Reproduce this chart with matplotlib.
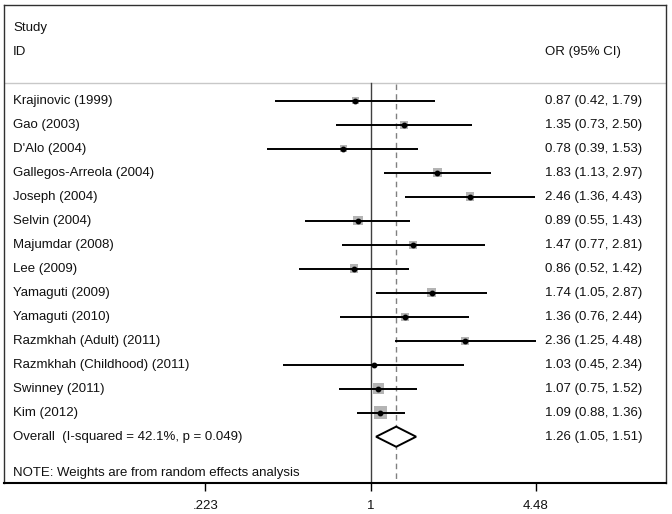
import numpy as np
import matplotlib
matplotlib.use("Agg")
from matplotlib import pyplot as plt
import matplotlib.transforms as mtrans

# datos
estudios = ["Krajinovic (1999)", "Gao (2003)", "D'Alo (2004)", "Gallegos-Arreola (2004)",
            "Joseph (2004)", "Selvin (2004)", "Majumdar (2008)", "Lee (2009)",
            "Yamaguti (2009)", "Yamaguti (2010)", "Razmkhah (Adult) (2011)",
            "Razmkhah (Childhood) (2011)", "Swinney (2011)", "Kim (2012)"]
OR = [0.87, 1.35, 0.78, 1.83, 2.46, 0.89, 1.47, 0.86, 1.74, 1.36, 2.36, 1.03, 1.07, 1.09]
li = [0.42, 0.73, 0.39, 1.13, 1.36, 0.55, 0.77, 0.52, 1.05, 0.76, 1.25, 0.45, 0.75, 0.88]
ls = [1.79, 2.50, 1.53, 2.97, 4.43, 1.43, 2.81, 1.42, 2.87, 2.44, 4.48, 2.34, 1.52, 1.36]
pesos = [4.7, 7.1, 5.4, 9.0, 8.0, 10.0, 7.1, 8.0, 9.0, 7.1, 7.1, 1.0, 13.4, 18.8]
overall = 1.26; o_li = 1.05; o_ls = 1.51
overall_label = "Overall  (I-squared = 42.1%, p = 0.049)"
nota = "NOTE: Weights are from random effects analysis"
ticks = [0.223, 1, 4.48]
tick_labels = [".223", "1", "4.48"]

W, H = 672, 514
fig = plt.figure(figsize=(W/100, H/100), dpi=100)
# caja del grafico en pixeles
x0, x1, y0, y1 = 4, 666, 5, 483
ax = fig.add_axes([x0/W, 1-y1/H, (x1-x0)/W, (y1-y0)/H])

# escala: px = 370.7 + 110.2*ln(x)
cx, k = 370.7, 110.2
ax.set_xscale("log")
ax.set_xlim(np.exp((x0-cx)/k), np.exp((x1-cx)/k))
# filas: px = 100.7 + 24*r
ax.set_ylim((y1-100.7)/24, (y0-100.7)/24)

fs = 9.5
fam = "Liberation Sans"
fx = lambda px: (px - x0)/(x1 - x0)
tr = mtrans.blended_transform_factory(ax.transAxes, ax.transData)

n = len(estudios)
for i in range(n):
    ax.plot([li[i], ls[i]], [i, i], color="black", lw=1.4, solid_capstyle="butt", zorder=3)
    lado = 3.0*np.sqrt(pesos[i])*0.72
    ax.scatter([OR[i]], [i], marker="s", s=lado**2, color="#b4b4b4", edgecolors="none", zorder=2)
    ax.plot([OR[i]], [i], "o", color="black", ms=3.2, zorder=4)
    ax.text(fx(13), i, estudios[i], transform=tr, fontsize=fs, va="center", ha="left",
            family=fam, color="#111111")
    ax.text(fx(545), i, "%.2f (%.2f, %.2f)" % (OR[i], li[i], ls[i]), transform=tr,
            fontsize=fs, va="center", ha="left", family=fam, color="#111111")

# diamante global
r = n
h = 0.42
ax.fill([o_li, overall, o_ls, overall, o_li], [r, r-h, r, r+h, r], facecolor="white",
        edgecolor="black", lw=1.4, zorder=3)
ax.text(fx(13), r, overall_label, transform=tr, fontsize=fs, va="center", ha="left",
        family=fam, color="#111111")
ax.text(fx(545), r, "%.2f (%.2f, %.2f)" % (overall, o_li, o_ls), transform=tr,
        fontsize=fs, va="center", ha="left", family=fam, color="#111111")

# encabezados
ax.text(fx(13), (28-100.7)/24, "Study", transform=tr, fontsize=fs, va="center", family=fam, color="#111111")
ax.text(fx(13), (52-100.7)/24, "ID", transform=tr, fontsize=fs, va="center", family=fam, color="#111111")
ax.text(fx(545), (52-100.7)/24, "OR (95% CI)", transform=tr, fontsize=fs, va="center", family=fam, color="#111111")
ax.text(fx(13), (473-100.7)/24, nota, transform=tr, fontsize=fs, va="center", family=fam, color="#111111")

yh = (82.7-100.7)/24
ax.axhline(yh, color="#c8c8c8", lw=1.0, zorder=1)
ybot = (y1-100.7)/24
ax.plot([1, 1], [yh, ybot], color="#404040", lw=1.0, zorder=1)
ax.plot([overall, overall], [yh + 0.05, ybot], color="#808080", lw=1.0,
        dashes=(4, 3), zorder=1)

for lado_s in ["left", "top", "right"]:
    ax.spines[lado_s].set_color("#303030")
    ax.spines[lado_s].set_linewidth(1.0)
ax.spines["bottom"].set_linewidth(1.5)
ax.set_yticks([])
ax.minorticks_off()
ax.set_xticks(ticks)
ax.set_xticklabels(tick_labels, fontsize=fs, family=fam, color="#111111")
ax.tick_params(axis="x", direction="out", length=6, width=1.0, pad=6)

fig.savefig("out.png", dpi=100)
